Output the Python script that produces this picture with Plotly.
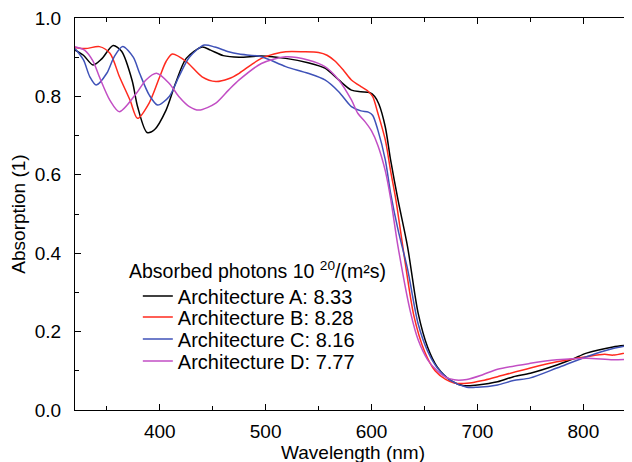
import plotly.graph_objects as go

# Architecture A (black)
wl_a = [320, 328, 337, 345, 356, 364, 374, 379, 388, 395, 406, 415, 425, 440, 448, 460, 475, 496,
        519, 540, 556, 569, 581, 590, 598, 603, 607, 613, 618, 625, 634, 644, 653, 662, 675, 687,
        700, 719, 734, 750, 775, 790, 803, 828, 845]
abs_a = [0.918, 0.905, 0.880, 0.895, 0.930, 0.915, 0.840, 0.775, 0.708, 0.715, 0.765, 0.834, 0.897, 0.926, 0.918, 0.904, 0.900, 0.903,
         0.897, 0.886, 0.872, 0.842, 0.816, 0.812, 0.810, 0.800, 0.780, 0.722, 0.638, 0.536, 0.417, 0.247, 0.160, 0.110, 0.075, 0.062,
         0.064, 0.072, 0.085, 0.094, 0.115, 0.130, 0.145, 0.161, 0.166]

# Architecture B (red)
wl_b = [320, 330, 343, 353, 362, 372, 379, 390, 400, 406, 412, 425, 440, 453, 465, 475, 486, 496,
        508, 519, 535, 550, 558, 566, 574, 581, 590, 596, 601, 606, 613, 618, 623, 631, 640, 650,
        660, 670, 678, 690, 705, 719, 750, 775, 803, 820, 828, 845]
abs_b = [0.925, 0.922, 0.927, 0.910, 0.850, 0.790, 0.744, 0.783, 0.850, 0.889, 0.908, 0.889, 0.850, 0.838, 0.845, 0.859, 0.880, 0.897,
         0.908, 0.914, 0.914, 0.912, 0.905, 0.889, 0.865, 0.842, 0.825, 0.815, 0.800, 0.757, 0.689, 0.610, 0.536, 0.390, 0.240, 0.150,
         0.100, 0.078, 0.069, 0.068, 0.075, 0.085, 0.107, 0.123, 0.136, 0.142, 0.140, 0.149]

# Architecture C (blue)
wl_c = [320, 328, 334, 340, 350, 357, 365, 375, 381, 390, 398, 409, 418, 428, 442, 452, 465, 475,
        496, 519, 540, 556, 569, 581, 590, 597, 601, 606, 613, 618, 625, 634, 644, 653, 662, 675,
        690, 700, 719, 734, 750, 775, 803, 828, 845]
abs_c = [0.922, 0.893, 0.850, 0.829, 0.859, 0.901, 0.927, 0.900, 0.859, 0.804, 0.778, 0.800, 0.850, 0.900, 0.931, 0.926, 0.914, 0.908,
         0.901, 0.876, 0.859, 0.842, 0.812, 0.774, 0.763, 0.760, 0.752, 0.714, 0.638, 0.553, 0.460, 0.360, 0.220, 0.150, 0.108, 0.075,
         0.058, 0.058, 0.064, 0.075, 0.082, 0.107, 0.136, 0.157, 0.166]

# Architecture D (magenta)
wl_d = [320, 329, 337, 343, 353, 362, 378, 387, 397, 409, 418, 428, 437, 453, 465, 475, 496, 519,
        540, 556, 569, 581, 587, 594, 600, 606, 613, 618, 625, 637, 644, 653, 662, 669, 678, 690,
        705, 719, 750, 775, 803, 828, 845]
abs_d = [0.927, 0.918, 0.890, 0.850, 0.790, 0.761, 0.808, 0.842, 0.859, 0.833, 0.800, 0.774, 0.765, 0.783, 0.816, 0.842, 0.884, 0.901,
         0.893, 0.876, 0.842, 0.791, 0.757, 0.735, 0.712, 0.675, 0.610, 0.540, 0.417, 0.247, 0.179, 0.128, 0.100, 0.085, 0.077, 0.078,
         0.090, 0.104, 0.119, 0.128, 0.132, 0.128, 0.130]

names = ["Architecture A: 8.33", "Architecture B: 8.28", "Architecture C: 8.16", "Architecture D: 7.77"]
colors = ["#000000", "#ff2a1e", "#3f52b8", "#c24ec4"]
series = [(wl_a, abs_a), (wl_b, abs_b), (wl_c, abs_c), (wl_d, abs_d)]
legend_ids = ["legend", "legend2", "legend3", "legend4"]
legend_title = "Absorbed photons 10 <sup>20</sup>/(m²s)"

x_ticks = [400, 500, 600, 700, 800]
y_ticks = [0.0, 0.2, 0.4, 0.6, 0.8, 1.0]

fig = go.Figure()
for (wl, ab), name, col, lg in zip(series, names, colors, legend_ids):
    fig.add_trace(go.Scatter(x=wl, y=ab, mode="lines", name=name, legend=lg, showlegend=True,
                             line=dict(color=col, width=1.5, shape="spline", smoothing=0.8)))

font = "Liberation Sans, Arial, sans-serif"
axis_common = dict(showline=True, linecolor="black", linewidth=1.2, mirror="ticks",
                   ticks="inside", ticklen=6, tickwidth=1.2, tickcolor="black",
                   showgrid=False, zeroline=False, ticklabeloverflow="allow", automargin=False,
                   tickfont=dict(family=font, size=19, color="black"))

fig.update_xaxes(range=[320, 845], tickvals=x_ticks, ticklabelstandoff=4,
                 minor=dict(dtick=50, ticks="inside", ticklen=4, tickwidth=1.2, tickcolor="black"),
                 title=dict(text="Wavelength (nm)", font=dict(family=font, size=19, color="black"), standoff=0),
                 **axis_common)
fig.update_yaxes(range=[0, 1], tickvals=y_ticks, tickformat=".1f", ticklabelstandoff=9,
                 minor=dict(dtick=0.1, ticks="inside", ticklen=4, tickwidth=1.2, tickcolor="black"),
                 title=dict(text="Absorption (1)", font=dict(family=font, size=19, color="black"), standoff=4),
                 **axis_common)

leg_font = dict(family=font, size=20, color="black")
leg_common = dict(x=0.113, xanchor="left", yanchor="middle", bgcolor="rgba(0,0,0,0)", font=leg_font)

fig.update_layout(
    width=632, height=462,
    showlegend=True,
    margin=dict(l=67, r=9, t=10, b=60, autoexpand=False),
    plot_bgcolor="white", paper_bgcolor="white",
    font=dict(family=font, size=19, color="black"),
    legend=dict(y=0.291, visible=True, **leg_common),
    legend2=dict(y=0.237, **leg_common),
    legend3=dict(y=0.181, **leg_common),
    legend4=dict(y=0.125, **leg_common),
    annotations=[dict(text=legend_title, xref="paper", yref="paper", x=0.094, y=0.357,
                      xanchor="left", yanchor="middle", showarrow=False,
                      font=dict(family=font, size=19.5, color="black"))],
)

fig.write_html("out.html")
